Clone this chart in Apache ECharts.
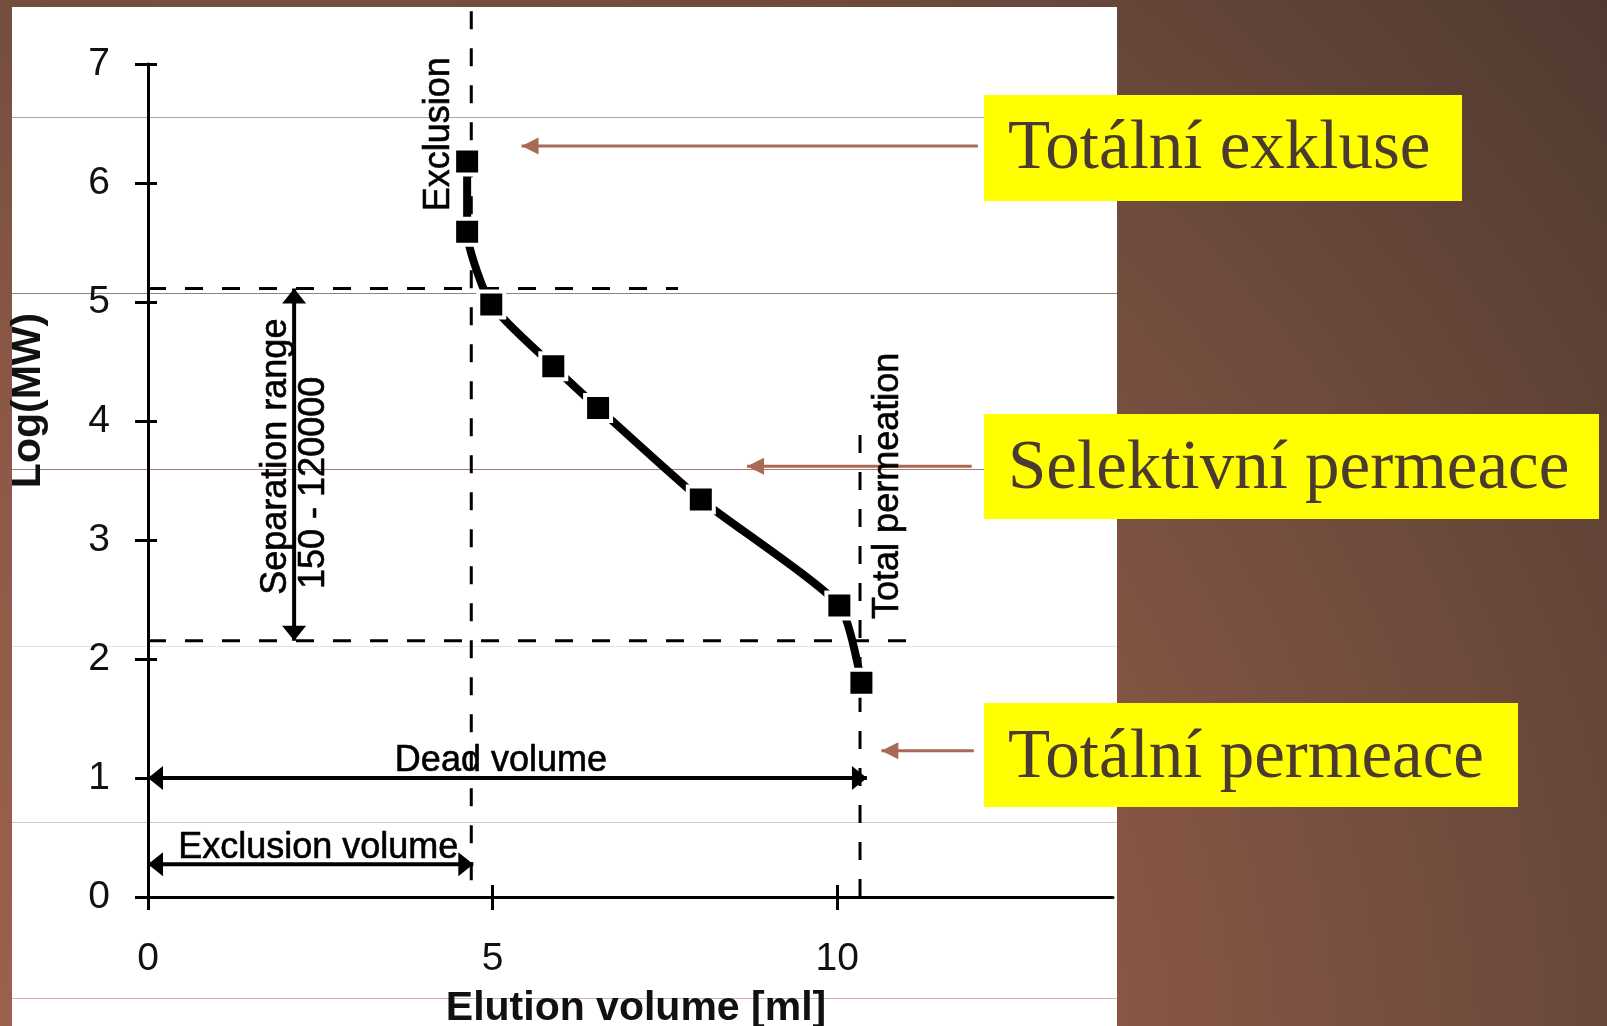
<!DOCTYPE html>
<html>
<head>
<meta charset="utf-8">
<script src="https://cdn.jsdelivr.net/npm/echarts@6/dist/echarts.min.js"></script>
<style>
  html, body { margin: 0; padding: 0; width: 1607px; height: 1026px; overflow: hidden; }
  body {
    position: relative;
    background: radial-gradient(circle at 300px 1100px, #a36652 0px, #8a5745 800px, #6c4a3c 1250px, #503a30 1700px);
  }
  #panel { position: absolute; left: 12px; top: 7px; width: 1105px; height: 1019px; background: #ffffff; }
  .rule { position: absolute; left: 12px; width: 1105px; height: 1px; }
  #chart { position: absolute; left: 0; top: 0; width: 1607px; height: 1026px; }
</style>
</head>
<body>
<div id="panel"></div>
<div class="rule" style="top:117px;background:#bba395"></div>
<div class="rule" style="top:293px;background:#9c7e70"></div>
<div class="rule" style="top:469px;background:#a67d6d"></div>
<div class="rule" style="top:646px;background:#eddfe0"></div>
<div class="rule" style="top:822px;background:#dcc3b9"></div>
<div class="rule" style="top:998px;background:#d6b3a4"></div>
<div id="chart"></div>
<script>
// Calibration standards: elution volume [ml] vs log10 of molecular weight
const elutionVolume = [4.63, 4.63, 4.98, 5.88, 6.53, 8.02, 10.03, 10.35];
const logMW = [6.18, 5.59, 4.98, 4.46, 4.11, 3.34, 2.45, 1.80];

const xTicks = [0, 5, 10];
const yTicks = [0, 1, 2, 3, 4, 5, 6, 7];

// Characteristic volumes and limits of the separation range
const exclusionVolume = 4.69;        // ml
const totalPermeationVolume = 10.33; // ml
const deadVolume = 10.43;            // ml
const upperLimitLogMW = 5.114;       // ~120 000
const lowerLimitLogMW = 2.154;       // ~150

// Callout labels on the right-hand side
const calloutTexts = ['Totální exkluse', 'Selektivní permeace', 'Totální permeace'];

const FONT = '"Liberation Sans", Arial, Helvetica, sans-serif';
const SERIF = '"Liberation Serif", "Times New Roman", serif';
const INK = '#111111';
const CALLOUT_BROWN = '#a86a55';

const chart = echarts.init(document.getElementById('chart'), null, { renderer: 'canvas' });

const curveData = elutionVolume.map((v, i) => [v, logMW[i]]);

function dashedSeries(points) {
  return {
    type: 'line', data: points, symbol: 'none', clip: false, silent: true, z: 2,
    lineStyle: { color: '#000', width: 3, type: [18, 19], cap: 'butt' }
  };
}

// arrow tip placed exactly on the data point
function tip(pt, dir, size, color) {
  const rot = { left: 90, right: -90, up: 0, down: 180 }[dir];
  const h = size[1] / 2;
  const off = { left: [h, 0], right: [-h, 0], up: [0, h], down: [0, -h] }[dir];
  return { value: pt, symbol: 'triangle', symbolSize: size, symbolRotate: rot, symbolOffset: off, itemStyle: { color } };
}
function plain(pt) { return { value: pt, symbol: 'none' }; }

function arrowSeries(data, color, width, z) {
  return {
    type: 'line', data, clip: false, silent: true, z,
    lineStyle: { color, width, cap: 'butt' }, itemStyle: { color }
  };
}

const BLACK_HEAD = [24, 15];
const BROWN_HEAD = [17, 17];

const annotationSeries = [
  dashedSeries([[exclusionVolume, 0.14], [exclusionVolume, 7.48]]),
  dashedSeries([[totalPermeationVolume, 0], [totalPermeationVolume, 4.0]]),
  dashedSeries([[0, upperLimitLogMW], [7.69, upperLimitLogMW]]),
  dashedSeries([[0, lowerLimitLogMW], [11.13, lowerLimitLogMW]]),
  // separation range
  arrowSeries([tip([2.12, upperLimitLogMW], 'up', BLACK_HEAD, '#000'), tip([2.12, lowerLimitLogMW], 'down', BLACK_HEAD, '#000')], '#000', 4, 3),
  // dead volume
  arrowSeries([tip([0, 1], 'left', BLACK_HEAD, '#000'), tip([deadVolume, 1], 'right', BLACK_HEAD, '#000')], '#000', 4, 3),
  // exclusion volume
  arrowSeries([tip([0, 0.275], 'left', BLACK_HEAD, '#000'), tip([4.72, 0.275], 'right', BLACK_HEAD, '#000')], '#000', 4, 3),
  // callout pointers
  arrowSeries([tip([5.42, 6.31], 'left', BROWN_HEAD, CALLOUT_BROWN), plain([12.04, 6.31])], CALLOUT_BROWN, 3, 3),
  arrowSeries([tip([8.69, 3.62], 'left', BROWN_HEAD, CALLOUT_BROWN), plain([11.95, 3.62])], CALLOUT_BROWN, 3, 3),
  arrowSeries([tip([10.64, 1.23], 'left', BROWN_HEAD, CALLOUT_BROWN), plain([11.98, 1.23])], CALLOUT_BROWN, 3, 3)
];

const textSeries = {
  type: 'scatter', symbolSize: 1, silent: true, z: 4,
  itemStyle: { color: 'rgba(0,0,0,0)' },
  label: {
    show: true, position: 'inside', formatter: '{b}', fontFamily: FONT, fontSize: 36,
    color: '#000', opacity: 1, textBorderColor: '#000', textBorderWidth: 0.6
  },
  labelLayout: { hideOverlap: false },
  data: [
    { name: 'Exclusion', value: [4.22, 6.41], label: { rotate: 90 } },
    { name: 'Separation range', value: [1.86, 3.70], label: { rotate: 90 } },
    { name: '150 - 120000', value: [2.415, 3.48], label: { rotate: 90 } },
    { name: 'Total permeation', value: [10.73, 3.455], label: { rotate: 90 } },
    { name: 'Dead volume', value: [5.12, 1.14] },
    { name: 'Exclusion volume', value: [2.47, 0.41] }
  ]
};

const calloutBoxes = [
  { x: 984, y: 95, w: 478, h: 106, baseline: 173 },
  { x: 984, y: 414, w: 615, h: 105, baseline: 492.5 },
  { x: 984, y: 703, w: 534, h: 104, baseline: 781.5 }
];

const graphic = [];
calloutBoxes.forEach((b, i) => {
  graphic.push({ type: 'rect', shape: { x: b.x, y: b.y, width: b.w, height: b.h }, style: { fill: '#ffff00' }, z: 10 });
  graphic.push({
    type: 'text', z: 11,
    style: { x: b.x + 24, y: b.baseline - 23, text: calloutTexts[i], font: '69px ' + SERIF, fill: '#4a3a2f', align: 'left', verticalAlign: 'middle' }
  });
});

const axisLineStyle = { color: '#000', width: 3 };

chart.setOption({
  animation: false,
  backgroundColor: 'transparent',
  grid: { left: 148, right: 494, top: 64, bottom: 129, containLabel: false, outerBoundsMode: 'none' },
  xAxis: [
    {
      type: 'value', min: 0, max: 14, interval: 5, position: 'bottom',
      axisLine: { show: true, onZero: false, lineStyle: axisLineStyle },
      axisTick: { show: true, length: 13, lineStyle: axisLineStyle, customValues: xTicks },
      axisLabel: { customValues: xTicks, margin: 43, fontSize: 39, color: INK, fontFamily: FONT },
      splitLine: { show: false },
      name: 'Elution volume [ml]', nameLocation: 'middle', nameGap: 91,
      nameTextStyle: { fontSize: 41, fontWeight: 'bold', color: INK, fontFamily: FONT, padding: [0, 0, 0, 11] }
    },
    {
      type: 'value', min: 0, max: 14, position: 'bottom',
      axisLine: { show: false },
      axisTick: { show: true, inside: true, length: 12, lineStyle: axisLineStyle, customValues: xTicks },
      axisLabel: { show: false }, splitLine: { show: false }
    }
  ],
  yAxis: [
    {
      type: 'value', min: 0, max: 7, interval: 1, position: 'left',
      axisLine: { show: true, onZero: false, lineStyle: axisLineStyle },
      axisTick: { show: true, length: 13, lineStyle: axisLineStyle, customValues: yTicks },
      axisLabel: { customValues: yTicks, margin: 38, fontSize: 39, color: INK, fontFamily: FONT, padding: [10, 0, 0, 0] },
      splitLine: { show: false },
      name: 'Log(MW)', nameLocation: 'middle', nameGap: 99,
      nameTextStyle: { fontSize: 41, fontWeight: 'bold', color: INK, fontFamily: FONT, padding: [0, 0, 0, 160] }
    },
    {
      type: 'value', min: 0, max: 7, interval: 1, position: 'left',
      axisLine: { show: false },
      axisTick: { show: true, inside: true, length: 9, lineStyle: axisLineStyle, customValues: yTicks },
      axisLabel: { show: false }, splitLine: { show: false }
    }
  ],
  series: [
    ...annotationSeries,
    textSeries,
    {
      type: 'line', name: 'Calibration', data: curveData, smooth: 0.2, z: 5,
      symbol: 'rect', symbolSize: 26, showAllSymbol: true,
      lineStyle: { color: '#000', width: 8 },
      itemStyle: { color: '#000', borderColor: '#ffffff', borderWidth: 4 }
    }
  ],
  graphic
});
</script>
</body>
</html>
